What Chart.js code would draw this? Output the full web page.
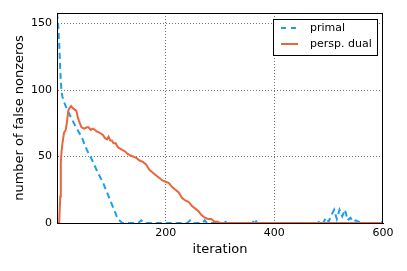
<!DOCTYPE html>
<html>
<head>
<meta charset="utf-8">
<script src="https://cdn.jsdelivr.net/npm/chart.js@4"></script>
<style>
body { margin: 0; background: #fff; }
</style>
</head>
<body>
<canvas id="falseChart" width="407" height="271"></canvas>
<script>

// primal series (dashed blue)
const primalX = [0, 2, 4, 6, 8, 10, 14, 18, 25, 35, 45, 55, 65, 75, 85, 95, 105, 112, 120,
    150, 155, 160, 240, 245, 250, 268, 272, 276, 308, 313, 318, 360, 364, 368,
    480, 485, 490, 495, 500, 505, 510, 515, 520, 525, 530, 535, 540, 545, 550, 560, 595, 598, 600];
const primalY = [158, 150, 135, 115, 100, 95, 90, 86, 80, 72, 65, 55, 47, 38, 30, 20, 10, 3, 0,
    0, 2, 0, 0, 2, 0, 0, 2, 0, 0, 2, 0, 0, 3, 0,
    0, 2, 0, 4, 1, 6, 10, 3, 10, 5, 10, 2, 4, 1, 2, 0, 0, 2, 0];

// persp. dual series (solid orange)
const dualX = [0, 4, 6, 7, 8, 10, 13, 16, 18, 21, 24, 26, 30, 34, 36, 38, 41, 45, 50, 55, 58, 62, 66, 70,
    73, 78, 82, 85, 88, 92, 95, 98, 101, 104, 108, 112, 116, 120, 125, 130, 134, 140, 146, 152,
    158, 164, 170, 176, 182, 188, 194, 200, 206, 212, 218, 224, 230, 236, 242, 248, 254, 260,
    266, 272, 278, 284, 290, 296, 300, 600];
const dualY = [0, 0, 20, 45, 52, 60, 68, 70, 75, 85, 87, 88, 86, 85, 84, 80, 76, 72, 71, 72, 72, 70, 71, 70,
    69, 68, 67, 66, 64, 63, 65, 62, 62, 60, 60, 57, 56, 55, 54, 52, 51, 50, 49, 47,
    46, 44, 40, 38, 36, 34, 32, 31, 30, 27, 25, 23, 19, 17, 16, 13, 11, 9,
    6, 4, 3, 3, 1, 1, 0, 0];

const seriesNames = ["primal", "persp. dual"];
const xTicks = [0, 200, 400, 600];
const yTicks = [0, 50, 100, 150];

const blue = "#1a9ff0";
const orange = "#e8663d";

function toPoints(xs, ys) {
    return xs.map((x, i) => ({ x: x, y: ys[i] }));
}

Chart.defaults.font.family = "'DejaVu Sans', sans-serif";
Chart.defaults.color = "#000";

// frame + legend box drawn inside the plot
const frameLegend = {
    id: "frameLegend",
    afterDraw(chart) {
        const ctx = chart.ctx;
        const a = chart.chartArea;
        ctx.save();
        ctx.strokeStyle = "#000";
        ctx.lineWidth = 1;
        ctx.setLineDash([]);
        ctx.strokeRect(a.left + 0.5, a.top + 0.5, a.right - a.left - 1, a.bottom - a.top);

        const bx = 273, by = 19, bw = 104, bh = 36;
        ctx.fillStyle = "#fff";
        ctx.fillRect(bx, by, bw, bh);
        ctx.strokeRect(bx + 0.5, by + 0.5, bw, bh);

        ctx.lineWidth = 2;
        ctx.strokeStyle = blue;
        ctx.setLineDash([5, 5]);
        ctx.beginPath();
        ctx.moveTo(281, 28);
        ctx.lineTo(298, 28);
        ctx.stroke();

        ctx.strokeStyle = orange;
        ctx.setLineDash([]);
        ctx.beginPath();
        ctx.moveTo(281, 44);
        ctx.lineTo(298, 44);
        ctx.stroke();

        ctx.fillStyle = "#000";
        ctx.font = "11px 'DejaVu Sans'";
        ctx.textBaseline = "middle";
        ctx.fillText(seriesNames[0], 310, 28);
        ctx.fillText(seriesNames[1], 310, 44);
        ctx.restore();
    }
};

const gridColor = (ctx) => {
    const v = ctx.tick ? ctx.tick.value : null;
    if (v === null) return "rgba(0,0,0,0)";
    const s = ctx.scale;
    if (v === s.min || v === s.max) return "rgba(0,0,0,0)";
    return "rgba(0,0,0,0.55)";
};

new Chart(document.getElementById("falseChart"), {
    type: "line",
    data: {
        datasets: [
            {
                label: seriesNames[0],
                data: toPoints(primalX, primalY),
                borderColor: blue,
                borderWidth: 2,
                borderDash: [6, 4],
                pointRadius: 0,
                tension: 0,
                fill: false,
                order: 1
            },
            {
                label: seriesNames[1],
                data: toPoints(dualX, dualY),
                borderColor: orange,
                borderWidth: 2,
                pointRadius: 0,
                tension: 0,
                fill: false,
                order: 0
            }
        ]
    },
    options: {
        responsive: false,
        animation: false,
        layout: {
            padding: { left: 0, right: 24, top: 13, bottom: 0 }
        },
        plugins: {
            legend: { display: false },
            tooltip: { enabled: false }
        },
        scales: {
            x: {
                type: "linear",
                min: 0,
                max: 600,
                afterBuildTicks: (s) => { s.ticks = xTicks.map(v => ({ value: v })); },
                afterFit: (s) => { s.height = 48; },
                ticks: {
                    font: { size: 11 },
                    padding: 4,
                    maxRotation: 0,
                    callback: (v) => (v === 0 ? "" : String(v))
                },
                grid: {
                    color: gridColor,
                    drawTicks: false,
                    lineWidth: 1
                },
                border: { display: true, color: "#000", width: 1, dash: [1, 2] },
                title: {
                    display: true,
                    text: "iteration",
                    font: { size: 13 },
                    padding: { top: 14, bottom: 14 }
                }
            },
            y: {
                type: "linear",
                min: 0,
                max: 158,
                afterBuildTicks: (s) => { s.ticks = yTicks.map(v => ({ value: v })); },
                afterFit: (s) => { s.width = 57; },
                ticks: {
                    font: { size: 11 },
                    padding: 5
                },
                grid: {
                    color: gridColor,
                    drawTicks: false,
                    lineWidth: 1
                },
                border: { display: true, color: "#000", width: 1, dash: [1, 2] },
                title: {
                    display: true,
                    text: "number of false nonzeros",
                    font: { size: 13 },
                    padding: { top: 12, bottom: 0 }
                }
            }
        }
    },
    plugins: [frameLegend]
});
</script>
</body>
</html>
